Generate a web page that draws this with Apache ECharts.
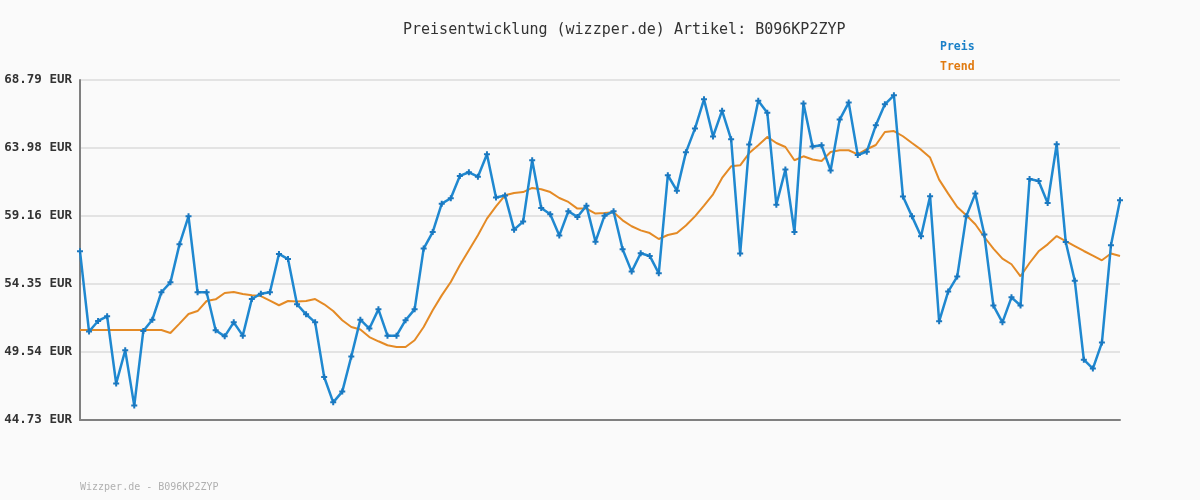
<!DOCTYPE html>
<html><head><meta charset="utf-8">
<script src="https://cdn.jsdelivr.net/npm/echarts@6/dist/echarts.min.js"></script>
<style>html,body{margin:0;padding:0;background:#fafafa}#c{width:1200px;height:500px}</style>
</head><body><div id="c"></div>
<script>
const titleText = 'Preisentwicklung (wizzper.de) Artikel: B096KP2ZYP';
const footerText = 'Wizzper.de - B096KP2ZYP';
const tickLabels = ['44.73 EUR','49.54 EUR','54.35 EUR','59.16 EUR','63.98 EUR','68.79 EUR'];
const yMin = 44.73, yMax = 68.79;
const preis = [
56.67,50.99,51.74,52.07,47.31,49.66,45.75,51.03,51.83,53.77,
54.47,57.16,59.14,53.77,53.77,51.08,50.65,51.64,50.70,53.29,
53.67,53.77,56.48,56.12,52.92,52.21,51.64,47.77,45.98,46.74,
49.22,51.83,51.20,52.56,50.70,50.70,51.79,52.56,56.86,58.03,
60.04,60.42,62.00,62.26,61.95,63.53,60.47,60.61,58.20,58.77,
63.11,59.73,59.29,57.78,59.50,59.10,59.90,57.35,59.19,59.50,
56.81,55.23,56.53,56.34,55.11,62.05,60.96,63.67,65.35,67.42,
64.79,66.62,64.59,56.51,64.22,67.33,66.48,59.97,62.45,58.03,
67.12,64.08,64.17,62.38,65.99,67.19,63.48,63.72,65.58,67.07,
67.71,60.54,59.14,57.73,60.56,51.71,53.82,54.88,59.14,60.75,
57.85,52.83,51.64,53.41,52.83,61.78,61.64,60.09,64.24,57.33,
54.59,49.00,48.37,50.21,57.09,60.28];
const trend = [
51.10,51.10,51.10,51.10,51.10,51.10,51.10,51.10,51.10,51.10,
50.89,51.55,52.23,52.44,53.15,53.27,53.72,53.79,53.65,53.55,
53.50,53.18,52.85,53.15,53.11,53.15,53.29,52.92,52.44,51.79,
51.31,51.13,50.60,50.30,50.02,49.90,49.90,50.37,51.31,52.49,
53.55,54.50,55.68,56.74,57.80,58.98,59.85,60.63,60.79,60.86,
61.15,61.06,60.86,60.44,60.16,59.69,59.69,59.34,59.38,59.43,
58.86,58.44,58.15,57.96,57.54,57.82,57.96,58.49,59.14,59.90,
60.70,61.86,62.68,62.75,63.62,64.17,64.76,64.33,64.05,63.11,
63.39,63.16,63.06,63.70,63.82,63.82,63.53,63.89,64.19,65.11,
65.18,64.81,64.33,63.86,63.30,61.74,60.75,59.80,59.22,58.58,
57.68,56.86,56.15,55.75,54.90,55.84,56.67,57.16,57.75,57.38,
57.04,56.69,56.36,56.03,56.51,56.34];
const categories = preis.map((_, i) => String(i + 1));

const mono = '"DejaVu Sans Mono", monospace';
const chart = echarts.init(document.getElementById('c'));
const interval = (yMax - yMin) / 5;
chart.setOption({
  backgroundColor: '#fafafa',
  animation: false,
  title: {
    text: titleText, left: 398, top: 18,
    textStyle: {fontFamily: mono, fontSize: 15, fontWeight: 'normal', color: '#333'}
  },
  legend: {
    orient: 'vertical', left: 930, top: 36, itemGap: 8,
    itemWidth: 0, itemHeight: 0,
    data: [
      {name: 'Preis', icon: 'none', textStyle: {color: '#1a80c8'}},
      {name: 'Trend', icon: 'none', textStyle: {color: '#e07a10'}}
    ],
    textStyle: {fontFamily: mono, fontSize: 11.5, fontWeight: 'bold', padding: 0}
  },
  graphic: [{
    type: 'text', left: 80, top: 482,
    style: {text: footerText, fill: '#b0b0b0', font: '10px ' + mono}
  }],
  grid: {left: 80, right: 80, top: 80, bottom: 80, containLabel: false},
  xAxis: {
    type: 'category', data: categories, boundaryGap: false,
    axisLine: {lineStyle: {color: '#808080', width: 2}},
    axisTick: {show: false}, axisLabel: {show: false}, splitLine: {show: false}
  },
  yAxis: {
    type: 'value', min: yMin, max: yMax, interval: interval,
    axisLine: {show: true, lineStyle: {color: '#808080', width: 2}},
    axisTick: {show: false},
    splitLine: {lineStyle: {color: '#e3e3e3', width: 2}},
    axisLabel: {
      margin: 8, fontFamily: mono, fontSize: 12.5, fontWeight: 'bold', color: '#333',
      formatter: v => tickLabels[Math.round((v - yMin) / interval)] || ''
    }
  },
  series: [
    {
      name: 'Preis', type: 'line', data: preis,
      showSymbol: true, showAllSymbol: true,
      symbol: 'path://M2,0H4V2H6V4H4V6H2V4H0V2H2Z', symbolSize: 6,
      itemStyle: {color: '#1a78c0'},
      lineStyle: {color: '#1f88d0', width: 2.5}, z: 3
    },
    {
      name: 'Trend', type: 'line', data: trend, symbol: 'none',
      itemStyle: {color: '#e07a10'},
      lineStyle: {color: '#e48a25', width: 2}, z: 2
    }
  ]
});
</script></body></html>
